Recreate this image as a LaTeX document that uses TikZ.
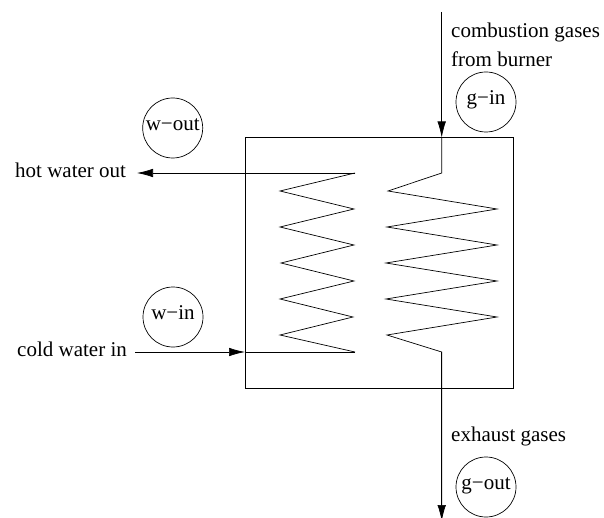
\documentclass[tikz,border=0pt]{standalone}
\usepackage{fontspec}
\setmainfont{Liberation Serif}
\usetikzlibrary{arrows.meta}
\newcommand{\tagtext}[1]{\raisebox{-2.5pt}[0pt][0pt]{#1}}
\tikzset{
  x=1pt,y=-1pt,
  line/.style={draw=black,line width=0.7pt,line join=miter},
  flow/.style={line,-{Latex[length=16pt,width=8.5pt,sharp]}},
  tag/.style={circle,draw=black,line width=0.7pt,minimum size=60pt,inner sep=0pt,font=\fontsize{21}{24}\selectfont},
  lbl/.style={anchor=base west,inner sep=0pt,font=\fontsize{21}{24}\selectfont}
}
\begin{document}
\begin{tikzpicture}
\useasboundingbox (0,0) rectangle (604,518);
\node[draw=none,fill=white,minimum width=604pt,minimum height=518pt,inner sep=0pt,line width=0pt] (bg) at (302,259) {};
% unit box
\node[line,minimum width=268pt,minimum height=250.5pt,inner sep=0pt] (box) at (379,262.75) {};
% coordinates
\coordinate (hotend) at (137,173);
\coordinate (hottop) at (355,173);
\coordinate (boxhot) at (245,173);
\coordinate (coldstart) at (135,352);
\coordinate (boxcold) at (245,352);
\coordinate (coldend) at (355,352);
\coordinate (gstart) at (441.7,12);
\coordinate (gbox) at (441.7,137.5);
\coordinate (gtop) at (441.7,173);
\coordinate (gbot) at (441.7,352);
\coordinate (gend) at (441.7,521);
% water coil
\draw[line] (hottop) -- (280,191) -- (354,209) -- (280,227) -- (354,245) -- (281,263)
  -- (354,281) -- (280,299) -- (353,317) -- (280,335) -- (coldend);
% gas coil
\draw[line] (gbox) -- (gtop) -- (388,191) -- (497,209) -- (387,227) -- (497,245) -- (386,263)
  -- (497,281) -- (386,299) -- (497,317) -- (387,335) -- (gbot) -- (gend);
% flows
\draw[flow] (hottop) -- (hotend);
\draw[flow] (coldstart) -- (boxcold);
\draw[line] (boxcold) -- (coldend);
\draw[flow] (gstart) -- (gbox);
\draw[flow] (gbot) -- (gend);
% state circles
\node[tag] (wout) at (172.7,128) {\tagtext{w−out}};
\node[tag] (win) at (173,317) {\tagtext{w−in}};
\node[tag] (gin) at (486,102) {\tagtext{g−in}};
\node[tag] (gout) at (486,487) {\tagtext{g−out}};
% labels
\node[lbl] (l1) at (451,38) {combustion gases};
\node[lbl] (l2) at (451,66.5) {from burner};
\node[lbl] (l3) at (15,177.5) {hot water out};
\node[lbl] (l4) at (17,356.5) {cold water in};
\node[lbl] (l5) at (451,441.5) {exhaust gases};
\end{tikzpicture}
\end{document}
